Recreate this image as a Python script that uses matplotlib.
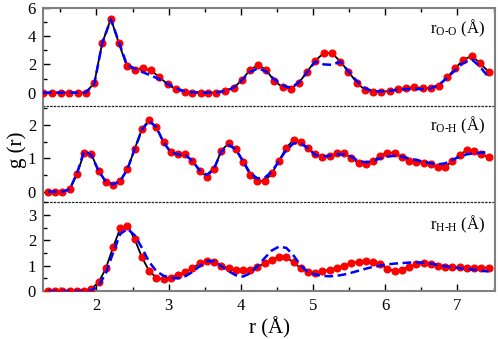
import numpy as np
import matplotlib
matplotlib.use("Agg")
import matplotlib.pyplot as plt
from matplotlib.ticker import MultipleLocator

plt.rcParams['font.family'] = ['Liberation Serif', 'DejaVu Serif']
plt.rcParams['mathtext.fontset'] = 'custom'
plt.rcParams['mathtext.rm'] = 'Liberation Serif'
plt.rcParams['mathtext.it'] = 'Liberation Serif:italic'

# O-O panel (finer grid)
r_oo = [1.26, 1.39, 1.51, 1.62, 1.74, 1.85, 1.97, 2.08, 2.20, 2.31, 2.42, 2.53,
        2.64, 2.76, 2.87, 2.99, 3.10, 3.22, 3.33, 3.45, 3.55, 3.66, 3.78, 3.90,
        4.01, 4.12, 4.24, 4.35, 4.46, 4.58, 4.69, 4.80, 4.92, 5.03, 5.15, 5.26,
        5.38, 5.49, 5.61, 5.72, 5.83, 5.94, 6.06, 6.17, 6.29, 6.40, 6.52, 6.63,
        6.74, 6.86, 6.97, 7.08, 7.20, 7.31, 7.43]
g_oo = [0, 0, 0, 0, 0, 0, 0.67, 3.51, 5.24, 3.51, 1.90, 1.61,
        1.73, 1.57, 1.09, 0.59, 0.24, 0.05, 0, 0, 0, 0, 0.14, 0.33,
        0.87, 1.57, 1.97, 1.61, 0.85, 0.38, 0.27, 0.67, 1.49, 2.27, 2.80, 2.80,
        2.20, 1.49, 0.67, 0.19, 0.05, 0.02, 0.14, 0.24, 0.33, 0.38, 0.33, 0.31,
        0.48, 1.09, 1.73, 2.32, 2.61, 2.09, 1.49]
g_oo_ref = [0, 0, 0, 0, 0, 0, 0.60, 3.50, 5.20, 3.60, 2.00, 1.70,
            1.45, 1.20, 0.95, 0.60, 0.30, 0.10, 0.03, 0, 0, 0.02, 0.10, 0.35,
            0.85, 1.45, 1.72, 1.50, 0.95, 0.50, 0.35, 0.70, 1.45, 2.20, 2.00, 1.97,
            2.20, 1.50, 0.80, 0.30, 0.10, 0.08, 0.12, 0.20, 0.25, 0.25, 0.25, 0.30,
            0.55, 1.05, 1.60, 2.10, 2.35, 1.85, 1.10]

# O-H and H-H panels
r_grid = [1.33, 1.43, 1.53, 1.63, 1.73, 1.83, 1.93, 2.03, 2.13, 2.23, 2.33, 2.43,
          2.53, 2.63, 2.73, 2.83, 2.93, 3.03, 3.13, 3.23, 3.33, 3.43, 3.53, 3.63,
          3.73, 3.83, 3.93, 4.03, 4.13, 4.23, 4.33, 4.43, 4.53, 4.63, 4.73, 4.83,
          4.93, 5.03, 5.13, 5.23, 5.33, 5.43, 5.53, 5.63, 5.73, 5.83, 5.93, 6.03,
          6.13, 6.23, 6.33, 6.43, 6.53, 6.63, 6.73, 6.83, 6.93, 7.03, 7.13, 7.23,
          7.33, 7.43]
g_oh = [0, 0, 0, 0.07, 0.53, 1.17, 1.12, 0.62, 0.30, 0.20, 0.32, 0.68,
        1.28, 1.88, 2.15, 1.93, 1.48, 1.18, 1.12, 1.12, 0.92, 0.62, 0.45, 0.69,
        1.23, 1.45, 1.27, 0.90, 0.50, 0.32, 0.32, 0.55, 0.93, 1.32, 1.55, 1.48,
        1.32, 1.12, 1.03, 1.07, 1.15, 1.15, 1.02, 0.85, 0.82, 0.92, 1.08, 1.17,
        1.17, 1.03, 0.92, 0.88, 0.87, 0.82, 0.75, 0.75, 0.92, 1.10, 1.25, 1.23,
        1.12, 1.03]
g_oh_ref = [0, 0, 0, 0.07, 0.55, 1.22, 1.10, 0.62, 0.30, 0.22, 0.32, 0.68,
            1.28, 1.86, 2.12, 1.93, 1.48, 1.18, 1.12, 1.10, 0.92, 0.64, 0.50, 0.70,
            1.20, 1.40, 1.27, 0.92, 0.55, 0.40, 0.42, 0.60, 0.93, 1.25, 1.45, 1.45,
            1.30, 1.10, 1.05, 1.08, 1.12, 1.12, 1.05, 0.92, 0.88, 0.92, 1.00, 1.05,
            1.08, 1.05, 1.00, 0.95, 0.90, 0.85, 0.82, 0.85, 0.95, 1.05, 1.12, 1.15,
            1.17, 1.20]
g_hh = [0, 0, 0, 0, 0, 0.01, 0.09, 0.34, 0.89, 1.72, 2.47, 2.58,
        2.04, 1.33, 0.79, 0.53, 0.46, 0.53, 0.63, 0.75, 0.89, 1.09, 1.20, 1.16,
        1.00, 0.89, 0.83, 0.83, 0.83, 0.96, 1.09, 1.22, 1.36, 1.33, 1.13, 0.89,
        0.74, 0.72, 0.79, 0.83, 0.92, 1.00, 1.09, 1.16, 1.20, 1.16, 1.07, 0.87,
        0.79, 0.83, 0.96, 1.05, 1.09, 1.05, 1.00, 0.96, 0.96, 0.93, 0.92, 0.92,
        0.92, 0.92]
g_hh_ref = [0, 0, 0, 0, 0, 0, 0.03, 0.20, 0.70, 1.50, 2.25, 2.45,
            2.20, 1.70, 1.15, 0.78, 0.60, 0.52, 0.50, 0.58, 0.75, 0.98, 1.18, 1.18,
            0.98, 0.78, 0.62, 0.57, 0.70, 0.98, 1.30, 1.60, 1.75, 1.70, 1.40, 1.00,
            0.75, 0.65, 0.60, 0.58, 0.60, 0.65, 0.72, 0.80, 0.88, 0.95, 1.00, 1.05,
            1.08, 1.10, 1.12, 1.13, 1.12, 1.08, 1.03, 0.98, 0.93, 0.90, 0.87, 0.84,
            0.80, 0.77]

labels = [r'r$_{\mathrm{O\text{-}O}}$ (Å)', r'r$_{\mathrm{O\text{-}H}}$ (Å)',
          r'r$_{\mathrm{H\text{-}H}}$ (Å)']

W, H = 498, 339
fig = plt.figure(figsize=(W / 100, H / 100), dpi=100)
gs = fig.add_gridspec(3, 1, height_ratios=[98, 96, 89], hspace=0,
                      left=43 / W, right=495 / W, top=1 - 8 / H, bottom=1 - 291 / H)
axes = [fig.add_subplot(gs[i]) for i in range(3)]

panels = [
    (r_oo, g_oo, g_oo_ref, (-0.95, 6), 2, 1, 0.742),
    (r_grid, g_oh, g_oh_ref, (-0.31, 2.57), 1, 0.5, 0.75),
    (r_grid, g_hh, g_hh_ref, (0, 3.51), 1, 0.5, 0.693),
]

for i, (ax, (r, g, gref, ylim, maj, mnr, ly)) in enumerate(zip(axes, panels)):
    ax.patch.set_visible(False)
    ax.plot(r, g, color='black', lw=1.3, zorder=2)
    ax.plot(r, g, 'o', color='#ff0000', ms=4.8, mec='#ff0000', zorder=3)
    ax.plot(r, gref, color='#0000ff', lw=1.8, dashes=(3.5, 1.8), zorder=4)
    ax.set_xlim(1.26, 7.52)
    ax.set_ylim(*ylim)
    ax.yaxis.set_major_locator(MultipleLocator(maj))
    ax.yaxis.set_minor_locator(MultipleLocator(mnr))
    ax.xaxis.set_major_locator(MultipleLocator(1))
    ax.xaxis.set_minor_locator(MultipleLocator(0.5))
    ax.text(0.978, ly, labels[i], transform=ax.transAxes, ha='right',
            va='baseline', fontsize=12)
    for s in ax.spines.values():
        s.set_color('#808080')
        s.set_linewidth(1.5)
    ax.tick_params(which='both', direction='in', labelsize=12, color='black',
                   width=1, left=True, right=False, top=(i == 0), bottom=(i == 2),
                   labelbottom=(i == 2), labeltop=False, pad=5)
    ax.tick_params(which='major', length=5)
    ax.tick_params(which='minor', length=3)
    if i > 0:
        ax.spines['top'].set_visible(False)
    if i < 2:
        ax.spines['bottom'].set_color('#222222')
        ax.spines['bottom'].set_linewidth(0.9)
        ax.spines['bottom'].set_linestyle((0, (1, 1.9)))

axes[2].set_xlabel('r (Å)', fontsize=15, labelpad=2)
fig.text(17 / W, 1 - 150 / H, 'g (r)', rotation=90, ha='center', va='center',
         fontsize=15)

fig.savefig('out.png', dpi=100)
